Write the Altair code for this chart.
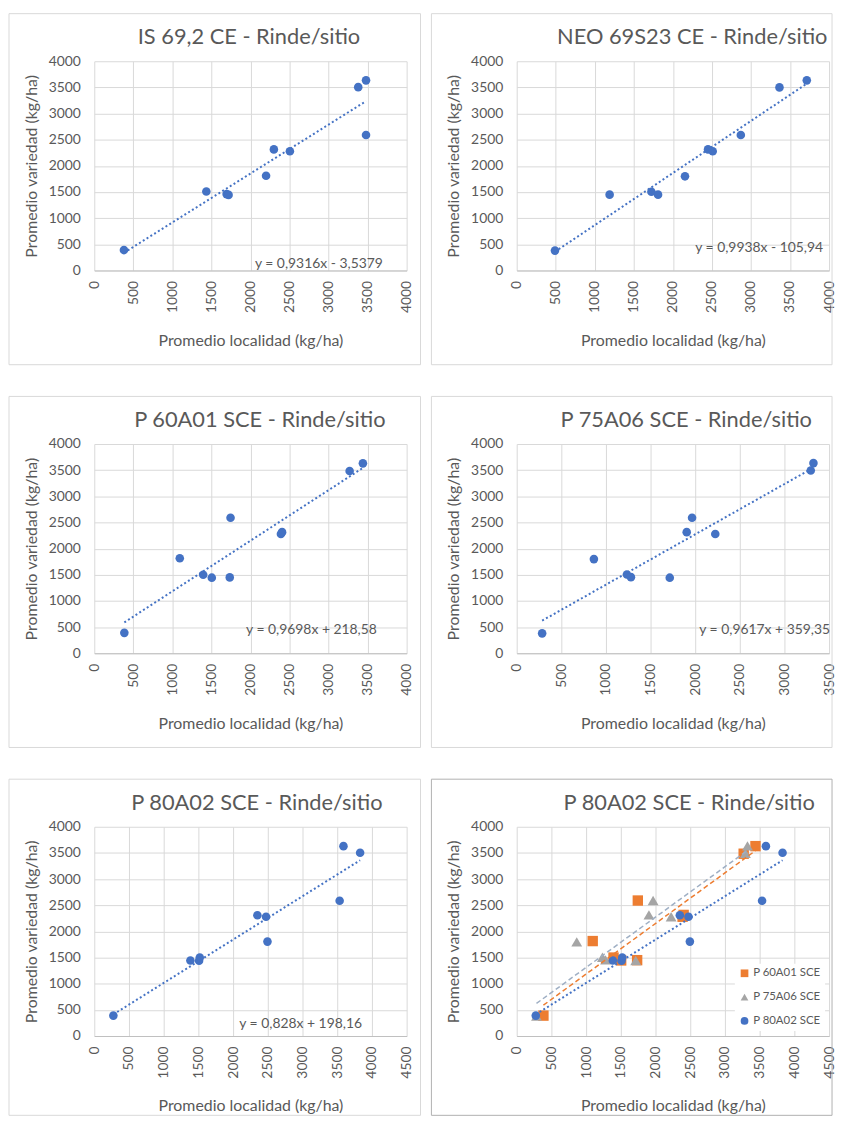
import altair as alt
import pandas as pd

# ---------------- data ----------------
titles = [
    "IS 69,2 CE - Rinde/sitio",
    "NEO 69S23 CE - Rinde/sitio",
    "P 60A01 SCE - Rinde/sitio",
    "P 75A06 SCE - Rinde/sitio",
    "P 80A02 SCE - Rinde/sitio",
    "P 80A02 SCE - Rinde/sitio",
]
equations = [
    "y = 0,9316x - 3,5379",
    "y = 0,9938x - 105,94",
    "y = 0,9698x + 218,58",
    "y = 0,9617x + 359,35",
    "y = 0,828x + 198,16",
]
x_max = [4000, 4000, 4000, 3500, 4500, 4500]
x_title = "Promedio localidad (kg/ha)"
y_title = "Promedio variedad (kg/ha)"
series_names = ["P 60A01 SCE", "P 75A06 SCE", "P 80A02 SCE"]

is692_x = [380, 1435, 1695, 1720, 2200, 2300, 2505, 3380, 3480, 3480]
is692_y = [390, 1510, 1460, 1445, 1810, 2315, 2280, 3505, 3635, 2590]

neo_x = [490, 1190, 1725, 1810, 2155, 2450, 2510, 2870, 3365, 3715]
neo_y = [380, 1450, 1505, 1450, 1800, 2315, 2280, 2590, 3500, 3635]

p60_x = [385, 1095, 1395, 1505, 1735, 1745, 2390, 2405, 3270, 3440]
p60_y = [390, 1815, 1500, 1445, 1450, 2590, 2280, 2315, 3485, 3630]

p75_x = [285, 865, 1235, 1280, 1715, 1905, 1965, 2225, 3295, 3325]
p75_y = [380, 1800, 1505, 1455, 1445, 2315, 2590, 2280, 3495, 3635]

p80_x = [275, 1385, 1510, 1520, 2350, 2475, 2495, 3535, 3590, 3830]
p80_y = [390, 1445, 1440, 1500, 2310, 2280, 1805, 2585, 3630, 3505]

# ---------------- styling ----------------
FONT = "Lato"
TXT = "#595959"
BLUE = "#4472C4"
ORANGE = "#ED7D31"
GRAY = "#A5A5A5"
W, H = 315, 211

one = pd.DataFrame({"k": [0]})


def axes(xmax):
    xs = alt.Scale(domain=[0, xmax], nice=False, zero=False)
    ys = alt.Scale(domain=[0, 4000], nice=False)
    xax = alt.Axis(values=list(range(0, xmax + 1, 500)), labelAngle=-90, format="d",
                   title=x_title, labelPadding=10, titlePadding=20,
                   domainColor="#bfbfbf")
    yax = alt.Axis(values=list(range(0, 4001, 500)), title=y_title, format="d",
                   labelPadding=14, titlePadding=9, domain=False)
    X = alt.X("x:Q", scale=xs, axis=xax)
    Y = alt.Y("y:Q", scale=ys, axis=yax)
    return X, Y


def frame(col, row, color="#d9d9d9"):
    return alt.Chart(one).mark_rect(fillOpacity=0, stroke=color, strokeWidth=1).encode(
        x=alt.value(-86),
        x2=alt.value(W + (3 if col else 14)),
        y=alt.value(-48),
        y2=alt.value(H + (80 if row == 2 else 95)),
    )


def title_mark(idx, cx):
    return alt.Chart(one).mark_text(
        font=FONT, fontSize=22, color=TXT, align="center", baseline="alphabetic"
    ).encode(x=alt.value(cx), y=alt.value(-17), text=alt.value(titles[idx]))


def eq_mark(idx, rx, cy):
    return alt.Chart(one).mark_text(
        font=FONT, fontSize=14, color=TXT, align="right", baseline="middle"
    ).encode(x=alt.value(rx), y=alt.value(cy), text=alt.value(equations[idx]))


def single(idx, xs, ys, col, row, tcx, eqpos):
    df = pd.DataFrame({"x": xs, "y": ys})
    X, Y = axes(x_max[idx])
    pts = alt.Chart(df).mark_circle(size=75, color=BLUE, opacity=1).encode(x=X, y=Y)
    trend = alt.Chart(df).transform_regression("x", "y").mark_line(
        color=BLUE, strokeWidth=2, strokeDash=[2, 2.5]
    ).encode(x=X, y=Y)
    return alt.layer(
        frame(col, row), pts, trend, eq_mark(idx, *eqpos), title_mark(idx, tcx)
    ).properties(width=W, height=H)


# legend position is measured from the first panel's plot origin (top-level)
LEG = dict(title=None, orient="none", legendX=646, legendY=910,
           fillColor="white", padding=4, labelFont=FONT,
           labelFontSize=11.5, labelColor=TXT, symbolSize=60,
           rowPadding=11, labelOffset=3, symbolStrokeWidth=0)


def combined(idx, col, row, tcx):
    frames = []
    for name, xs, ys in zip(series_names, [p60_x, p75_x, p80_x], [p60_y, p75_y, p80_y]):
        frames.append(pd.DataFrame({"x": xs, "y": ys, "serie": name}))
    df = pd.concat(frames, ignore_index=True)
    X, Y = axes(x_max[idx])
    color = alt.Color("serie:N", scale=alt.Scale(domain=series_names, range=[ORANGE, GRAY, BLUE]),
                      legend=alt.Legend(**LEG))
    shape = alt.Shape("serie:N", scale=alt.Scale(domain=series_names,
                                                 range=["square", "triangle-up", "circle"]),
                      legend=alt.Legend(**LEG))
    point_layers = []
    for name, sz in zip(series_names, [110, 120, 75]):
        point_layers.append(
            alt.Chart(df).transform_filter(alt.datum.serie == name)
            .mark_point(filled=True, opacity=1, strokeWidth=0, size=sz)
            .encode(x=X, y=Y, color=color, shape=shape)
        )
    lines = []
    styles = [(ORANGE, [5, 3], 1.5), ("#9FAFC4", [5, 3], 1.5), (BLUE, [2, 2.5], 2)]
    for name, (c, dash, sw) in zip(series_names, styles):
        lines.append(
            alt.Chart(df).transform_filter(alt.datum.serie == name)
            .transform_regression("x", "y")
            .mark_line(color=c, strokeDash=dash, strokeWidth=sw)
            .encode(x=X, y=Y)
        )
    return alt.layer(
        frame(col, row, "#b0b0b0"), *point_layers, *lines, title_mark(idx, tcx)
    ).properties(width=W, height=H)


panels = [
    single(0, is692_x, is692_y, 0, 0, 156, (291, 204)),
    single(1, neo_x, neo_y, 1, 0, 177, (309, 188)),
    single(2, p60_x, p60_y, 0, 1, 167, (285, 188)),
    single(3, p75_x, p75_y, 1, 1, 171, (316, 188)),
    single(4, p80_x, p80_y, 0, 2, 164, (270, 199)),
    combined(5, 1, 2, 174),
]

chart = alt.concat(*panels, columns=2, spacing={"row": 30, "column": 9}).properties(
    padding=0
).configure_view(stroke=None).configure_axis(
    labelFont=FONT, titleFont=FONT, labelColor=TXT, titleColor=TXT,
    labelFontSize=14, titleFontSize=16, titleFontWeight="normal",
    gridColor="#d9d9d9", gridWidth=1, tickSize=0,
)

chart.save("out.html", embed_options={"renderer": "svg", "actions": False})
